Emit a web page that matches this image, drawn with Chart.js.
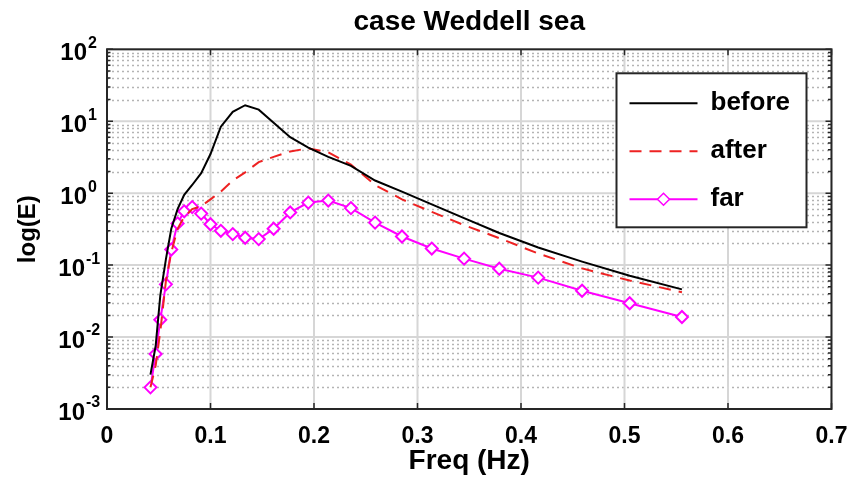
<!DOCTYPE html>
<html lang="en">
<head>
    <meta charset="UTF-8">
    <title>case Weddell sea</title>
    <script src="https://cdn.jsdelivr.net/npm/chart.js"></script>
    <style>
        body {
            margin: 0;
            background-color: #ffffff;
        }

        #wrap {
            width: 851px;
            height: 478px;
        }
    </style>
</head>
<body>
    <div id="wrap">
        <canvas id="specChart" width="851" height="478"></canvas>
    </div>

    <script>
        // Frequency bins (Hz) and spectra
        const freq = [0.042, 0.047, 0.0515, 0.0569, 0.0621, 0.0682, 0.0746, 0.0823, 0.091, 0.100,
                      0.110, 0.1215, 0.1335, 0.1466, 0.161, 0.177, 0.1945, 0.2138, 0.2357, 0.259,
                      0.285, 0.3138, 0.345, 0.379, 0.4166, 0.459, 0.505, 0.5555];
        const before = [0.003, 0.0075, 0.038, 0.12, 0.32, 0.6, 0.95, 1.3, 1.9, 3.5,
                        8.4, 13.5, 16.7, 14.5, 9.5, 6.0, 4.3, 3.2, 2.4, 1.5,
                        1.05, 0.70, 0.45, 0.28, 0.176, 0.112, 0.071, 0.046];
        const after = [0.002, 0.004, 0.012, 0.06, 0.15, 0.32, 0.47, 0.6, 0.66, 0.82,
                       1.05, 1.5, 1.95, 2.7, 3.2, 3.8, 4.2, 3.7, 2.5, 1.3,
                       0.82, 0.55, 0.36, 0.237, 0.145, 0.090, 0.061, 0.042];
        const far = [0.002, 0.0058, 0.0174, 0.054, 0.165, 0.38, 0.56, 0.64, 0.52, 0.37,
                     0.30, 0.27, 0.24, 0.23, 0.32, 0.54, 0.74, 0.79, 0.62, 0.39,
                     0.25, 0.17, 0.123, 0.089, 0.067, 0.044, 0.0295, 0.019];

        const xTicks = [0, 0.1, 0.2, 0.3, 0.4, 0.5, 0.6, 0.7];
        const yDecades = [-3, -2, -1, 0, 1, 2];

        const FONT = "'Liberation Sans', Arial, Helvetica, sans-serif";

        function toPoints(ys) {
            return freq.map((f, i) => ({ x: f, y: ys[i] }));
        }

        // MATLAB style axes: grid, box, inward ticks, 10^n labels, boxed legend
        const matlabAxes = {
            id: 'matlabAxes',
            beforeDatasetsDraw(chart) {
                const { ctx, chartArea: a, scales: { x, y } } = chart;
                ctx.save();
                ctx.beginPath();
                ctx.rect(a.left, a.top, a.right - a.left, a.bottom - a.top);
                ctx.clip();

                // minor horizontal grid (dotted)
                ctx.strokeStyle = '#b4b4b4';
                ctx.lineWidth = 1.4;
                ctx.setLineDash([2, 3]);
                yDecades.slice(0, -1).forEach(e => {
                    for (let m = 2; m <= 9; m++) {
                        const py = Math.round(y.getPixelForValue(m * Math.pow(10, e))) + 0.5;
                        ctx.beginPath();
                        ctx.moveTo(a.left, py);
                        ctx.lineTo(a.right, py);
                        ctx.stroke();
                    }
                });

                // major grid (solid)
                ctx.setLineDash([]);
                ctx.strokeStyle = '#d6d6d6';
                ctx.lineWidth = 2;
                yDecades.forEach(e => {
                    const py = y.getPixelForValue(Math.pow(10, e));
                    ctx.beginPath();
                    ctx.moveTo(a.left, py);
                    ctx.lineTo(a.right, py);
                    ctx.stroke();
                });
                xTicks.forEach(v => {
                    const px = x.getPixelForValue(v);
                    ctx.beginPath();
                    ctx.moveTo(px, a.top);
                    ctx.lineTo(px, a.bottom);
                    ctx.stroke();
                });
                ctx.restore();
            },
            afterDatasetsDraw(chart) {
                const { ctx, chartArea: a, scales: { x, y } } = chart;
                ctx.save();

                // inward ticks
                ctx.strokeStyle = '#262626';
                ctx.lineWidth = 1.5;
                xTicks.forEach(v => {
                    const px = x.getPixelForValue(v);
                    ctx.beginPath();
                    ctx.moveTo(px, a.bottom);
                    ctx.lineTo(px, a.bottom - 6);
                    ctx.moveTo(px, a.top);
                    ctx.lineTo(px, a.top + 6);
                    ctx.stroke();
                });
                yDecades.forEach((e, k) => {
                    const py = y.getPixelForValue(Math.pow(10, e));
                    ctx.beginPath();
                    ctx.moveTo(a.left, py);
                    ctx.lineTo(a.left + 6, py);
                    ctx.moveTo(a.right, py);
                    ctx.lineTo(a.right - 6, py);
                    ctx.stroke();
                    if (k < yDecades.length - 1) {
                        for (let m = 2; m <= 9; m++) {
                            const pm = y.getPixelForValue(m * Math.pow(10, e));
                            ctx.beginPath();
                            ctx.moveTo(a.left, pm);
                            ctx.lineTo(a.left + 3.5, pm);
                            ctx.moveTo(a.right, pm);
                            ctx.lineTo(a.right - 3.5, pm);
                            ctx.stroke();
                        }
                    }
                });

                // box
                ctx.lineWidth = 2;
                ctx.strokeRect(a.left, a.top, a.right - a.left, a.bottom - a.top);

                // y tick labels 10^n
                ctx.fillStyle = '#000000';
                yDecades.forEach(e => {
                    const py = y.getPixelForValue(Math.pow(10, e));
                    const shift = e < 0 ? 2 : 0;
                    ctx.font = 'bold 24px ' + FONT;
                    ctx.textAlign = 'right';
                    ctx.textBaseline = 'middle';
                    ctx.fillText('10', 87 - shift, py + 4);
                    ctx.font = 'bold 16px ' + FONT;
                    ctx.textAlign = 'left';
                    ctx.fillText(String(e), 88 - shift, py - 6);
                });

                // legend box
                const lx = a.right - 215, ly = a.top + 24, lw = 190, lh = 154;
                ctx.fillStyle = '#ffffff';
                ctx.fillRect(lx, ly, lw, lh);
                ctx.strokeStyle = '#262626';
                ctx.lineWidth = 2;
                ctx.strokeRect(lx, ly, lw, lh);

                chart.data.datasets.forEach((ds, i) => {
                    const ry = ly + 30 + i * 48;
                    const x0 = lx + 13, x1 = lx + 81;
                    ctx.strokeStyle = ds.borderColor;
                    ctx.lineWidth = ds.borderWidth;
                    ctx.setLineDash(ds.borderDash || []);
                    ctx.beginPath();
                    ctx.moveTo(x0, ry);
                    ctx.lineTo(x1, ry);
                    ctx.stroke();
                    ctx.setLineDash([]);
                    if (ds.pointRadius > 0) {
                        const cx = (x0 + x1) / 2, r = ds.pointRadius;
                        ctx.fillStyle = '#ffffff';
                        ctx.beginPath();
                        ctx.moveTo(cx - r, ry);
                        ctx.lineTo(cx, ry - r);
                        ctx.lineTo(cx + r, ry);
                        ctx.lineTo(cx, ry + r);
                        ctx.closePath();
                        ctx.fill();
                        ctx.lineWidth = 1.5;
                        ctx.stroke();
                    }
                    ctx.fillStyle = '#000000';
                    ctx.font = 'bold 26px ' + FONT;
                    ctx.textAlign = 'left';
                    ctx.textBaseline = 'middle';
                    ctx.fillText(ds.label, lx + 94, ry);
                });
                ctx.restore();
            }
        };

        const ctx = document.getElementById('specChart').getContext('2d');
        const specChart = new Chart(ctx, {
            type: 'line',
            data: {
                datasets: [{
                    label: 'before',
                    data: toPoints(before),
                    borderColor: '#000000',
                    borderWidth: 2,
                    pointRadius: 0
                }, {
                    label: 'after',
                    data: toPoints(after),
                    borderColor: '#ee2222',
                    borderWidth: 2,
                    borderDash: [12, 8],
                    pointRadius: 0
                }, {
                    label: 'far',
                    data: toPoints(far),
                    borderColor: '#ff00ff',
                    borderWidth: 2,
                    pointStyle: 'rectRot',
                    pointRadius: 6,
                    pointBorderWidth: 2,
                    pointBackgroundColor: '#ffffff',
                    pointBorderColor: '#ff00ff'
                }]
            },
            options: {
                responsive: false,
                animation: false,
                layout: {
                    padding: { left: 0, right: 19.5, top: 0, bottom: 0 }
                },
                plugins: {
                    legend: { display: false },
                    tooltip: { enabled: false },
                    title: {
                        display: true,
                        text: 'case Weddell sea',
                        fullSize: false,
                        color: '#000000',
                        font: { family: FONT, size: 28, weight: 'bold' },
                        padding: { top: 5, bottom: 10.7 }
                    }
                },
                scales: {
                    x: {
                        type: 'linear',
                        min: 0,
                        max: 0.7,
                        afterFit(scale) {
                            scale.height = 69;
                            scale.paddingLeft = 0;
                            scale.paddingRight = 0;
                        },
                        afterBuildTicks(scale) {
                            scale.ticks = xTicks.map(v => ({ value: v }));
                        },
                        grid: { display: false, drawTicks: false, tickLength: 0 },
                        border: { display: false },
                        ticks: {
                            padding: 14,
                            color: '#000000',
                            font: { family: FONT, size: 23, weight: 'bold' },
                            callback: v => (v === 0 ? '0' : v.toFixed(1))
                        },
                        title: {
                            display: true,
                            text: 'Freq (Hz)',
                            color: '#000000',
                            font: { family: FONT, size: 28, weight: 'bold' },
                            padding: { top: 0, bottom: 0 }
                        }
                    },
                    y: {
                        type: 'logarithmic',
                        min: 0.001,
                        max: 100,
                        afterFit(scale) { scale.width = 107; },
                        grid: { display: false, drawTicks: false },
                        border: { display: false },
                        ticks: { display: false },
                        title: {
                            display: true,
                            text: 'log(E)',
                            color: '#000000',
                            font: { family: FONT, size: 24, weight: 'bold' },
                            padding: { top: 14, bottom: 0 }
                        }
                    }
                }
            },
            plugins: [matlabAxes]
        });
    </script>
</body>
</html>
